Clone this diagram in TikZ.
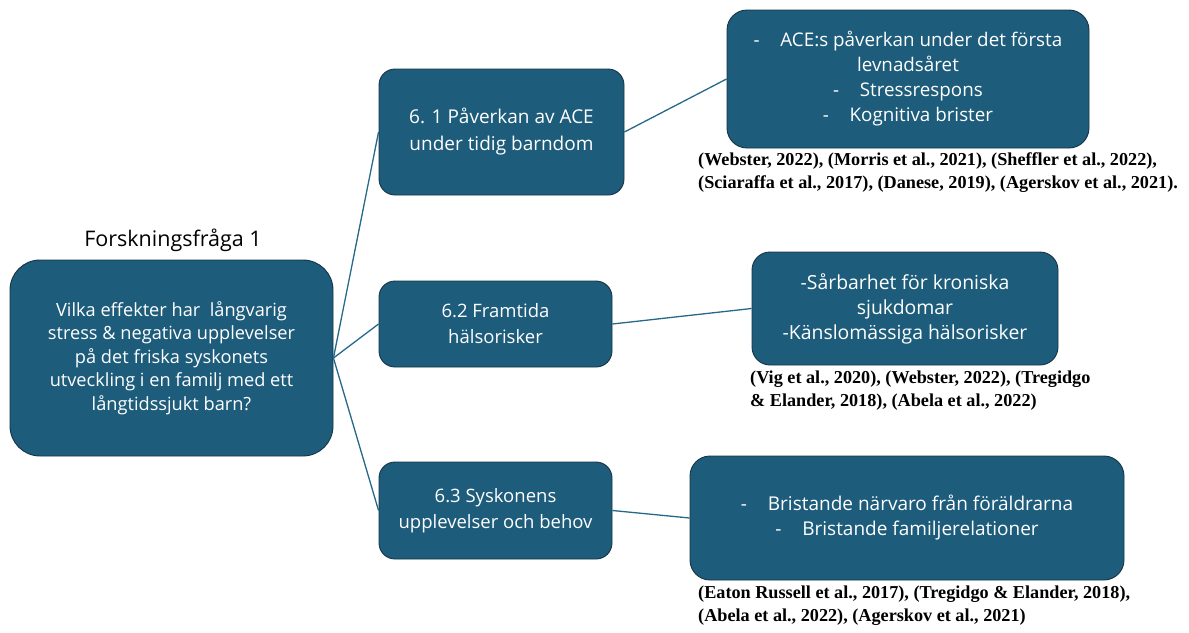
\documentclass[tikz,border=0pt]{standalone}
\usepackage{fontspec}
\setmainfont{Open Sans}
\newfontfamily\citefont{Liberation Serif}
\definecolor{boxblue}{RGB}{29,92,123}
\definecolor{boxedge}{RGB}{22,52,70}
\definecolor{linkblue}{RGB}{38,104,138}

\begin{document}
\begin{tikzpicture}[x=1pt,y=-1pt,
		box/.style={draw=boxedge, line width=0.9pt, fill=boxblue, text=white, align=center, rounded corners=16pt, inner sep=0pt},
		cite/.style={anchor=north west, align=left, inner sep=0pt, font=\citefont\bfseries\fontsize{18.2}{23}\selectfont},
		link/.style={draw=linkblue, line width=1.3pt}]
	\useasboundingbox (0,0) rectangle (1189,632);

	% fraga och huvudruta
	\node (rubrik) at (173,240) {\fontsize{21.5}{23}\selectfont Forskningsfråga 1};
	\node[box, rounded corners=30pt, minimum width=323pt, minimum height=196pt, font=\fontsize{18.2}{23.5}\selectfont] (fraga) at (171.5,358)
		{Vilka effekter har \ långvarig\\ stress \& negativa upplevelser\\ på det friska syskonets\\ utveckling i en familj med ett\\ långtidssjukt barn?};

	% teman
	\node[box, minimum width=245pt, minimum height=126pt, font=\fontsize{19}{27}\selectfont] (ace) at (501.5,132)
		{6. 1 Påverkan av ACE\\ under tidig barndom};
	\node[box, minimum width=233pt, minimum height=86pt, font=\fontsize{18.5}{26}\selectfont] (halsa) at (495.5,324)
		{6.2 Framtida\\ hälsorisker};
	\node[box, minimum width=233pt, minimum height=97pt, font=\fontsize{18.5}{26}\selectfont] (syskon) at (495.5,510.5)
		{6.3 Syskonens\\ upplevelser och behov};

	% resultat
	\node[box, rounded corners=20pt, minimum width=362pt, minimum height=138pt, font=\fontsize{18.8}{25}\selectfont] (aceres) at (908,79)
		{-\hspace{1.1em}ACE:s påverkan under det första\\ levnadsåret\\ -\hspace{1.1em}Stressrespons\\ -\hspace{1.1em}Kognitiva brister};
	\node[box, rounded corners=18pt, minimum width=306pt, minimum height=113pt, font=\fontsize{19.4}{25}\selectfont] (halsares) at (905,308.5)
		{-Sårbarhet för kroniska\\ sjukdomar\\ -Känslomässiga hälsorisker};
	\node[box, rounded corners=20pt, minimum width=434pt, minimum height=124pt, font=\fontsize{19}{25}\selectfont] (syskonres) at (907,518)
		{-\hspace{1.1em}Bristande närvaro från föräldrarna\\ -\hspace{1.1em}Bristande familjerelationer};

	% kallor
	\node[cite] (acecite) at (698,152)
		{(Webster, 2022), (Morris et al., 2021), (Sheffler et al., 2022),\\ (Sciaraffa et al., 2017), (Danese, 2019), (Agerskov et al., 2021).};
	\node[cite] (halsacite) at (750,371)
		{(Vig et al., 2020), (Webster, 2022), (Tregidgo\\ \& Elander, 2018), (Abela et al., 2022)};
	\node[cite] (syskoncite) at (698,586)
		{(Eaton Russell et al., 2017), (Tregidgo \& Elander, 2018),\\ (Abela et al., 2022), (Agerskov et al., 2021)};

	% linjer
	\draw[link] (fraga.east) -- (ace.west);
	\draw[link] (fraga.east) -- (halsa.west);
	\draw[link] (fraga.east) -- (syskon.west);
	\draw[link] (ace.east) -- (aceres.west);
	\draw[link] (halsa.east) -- (halsares.west);
	\draw[link] (syskon.east) -- (syskonres.west);
\end{tikzpicture}
\end{document}
